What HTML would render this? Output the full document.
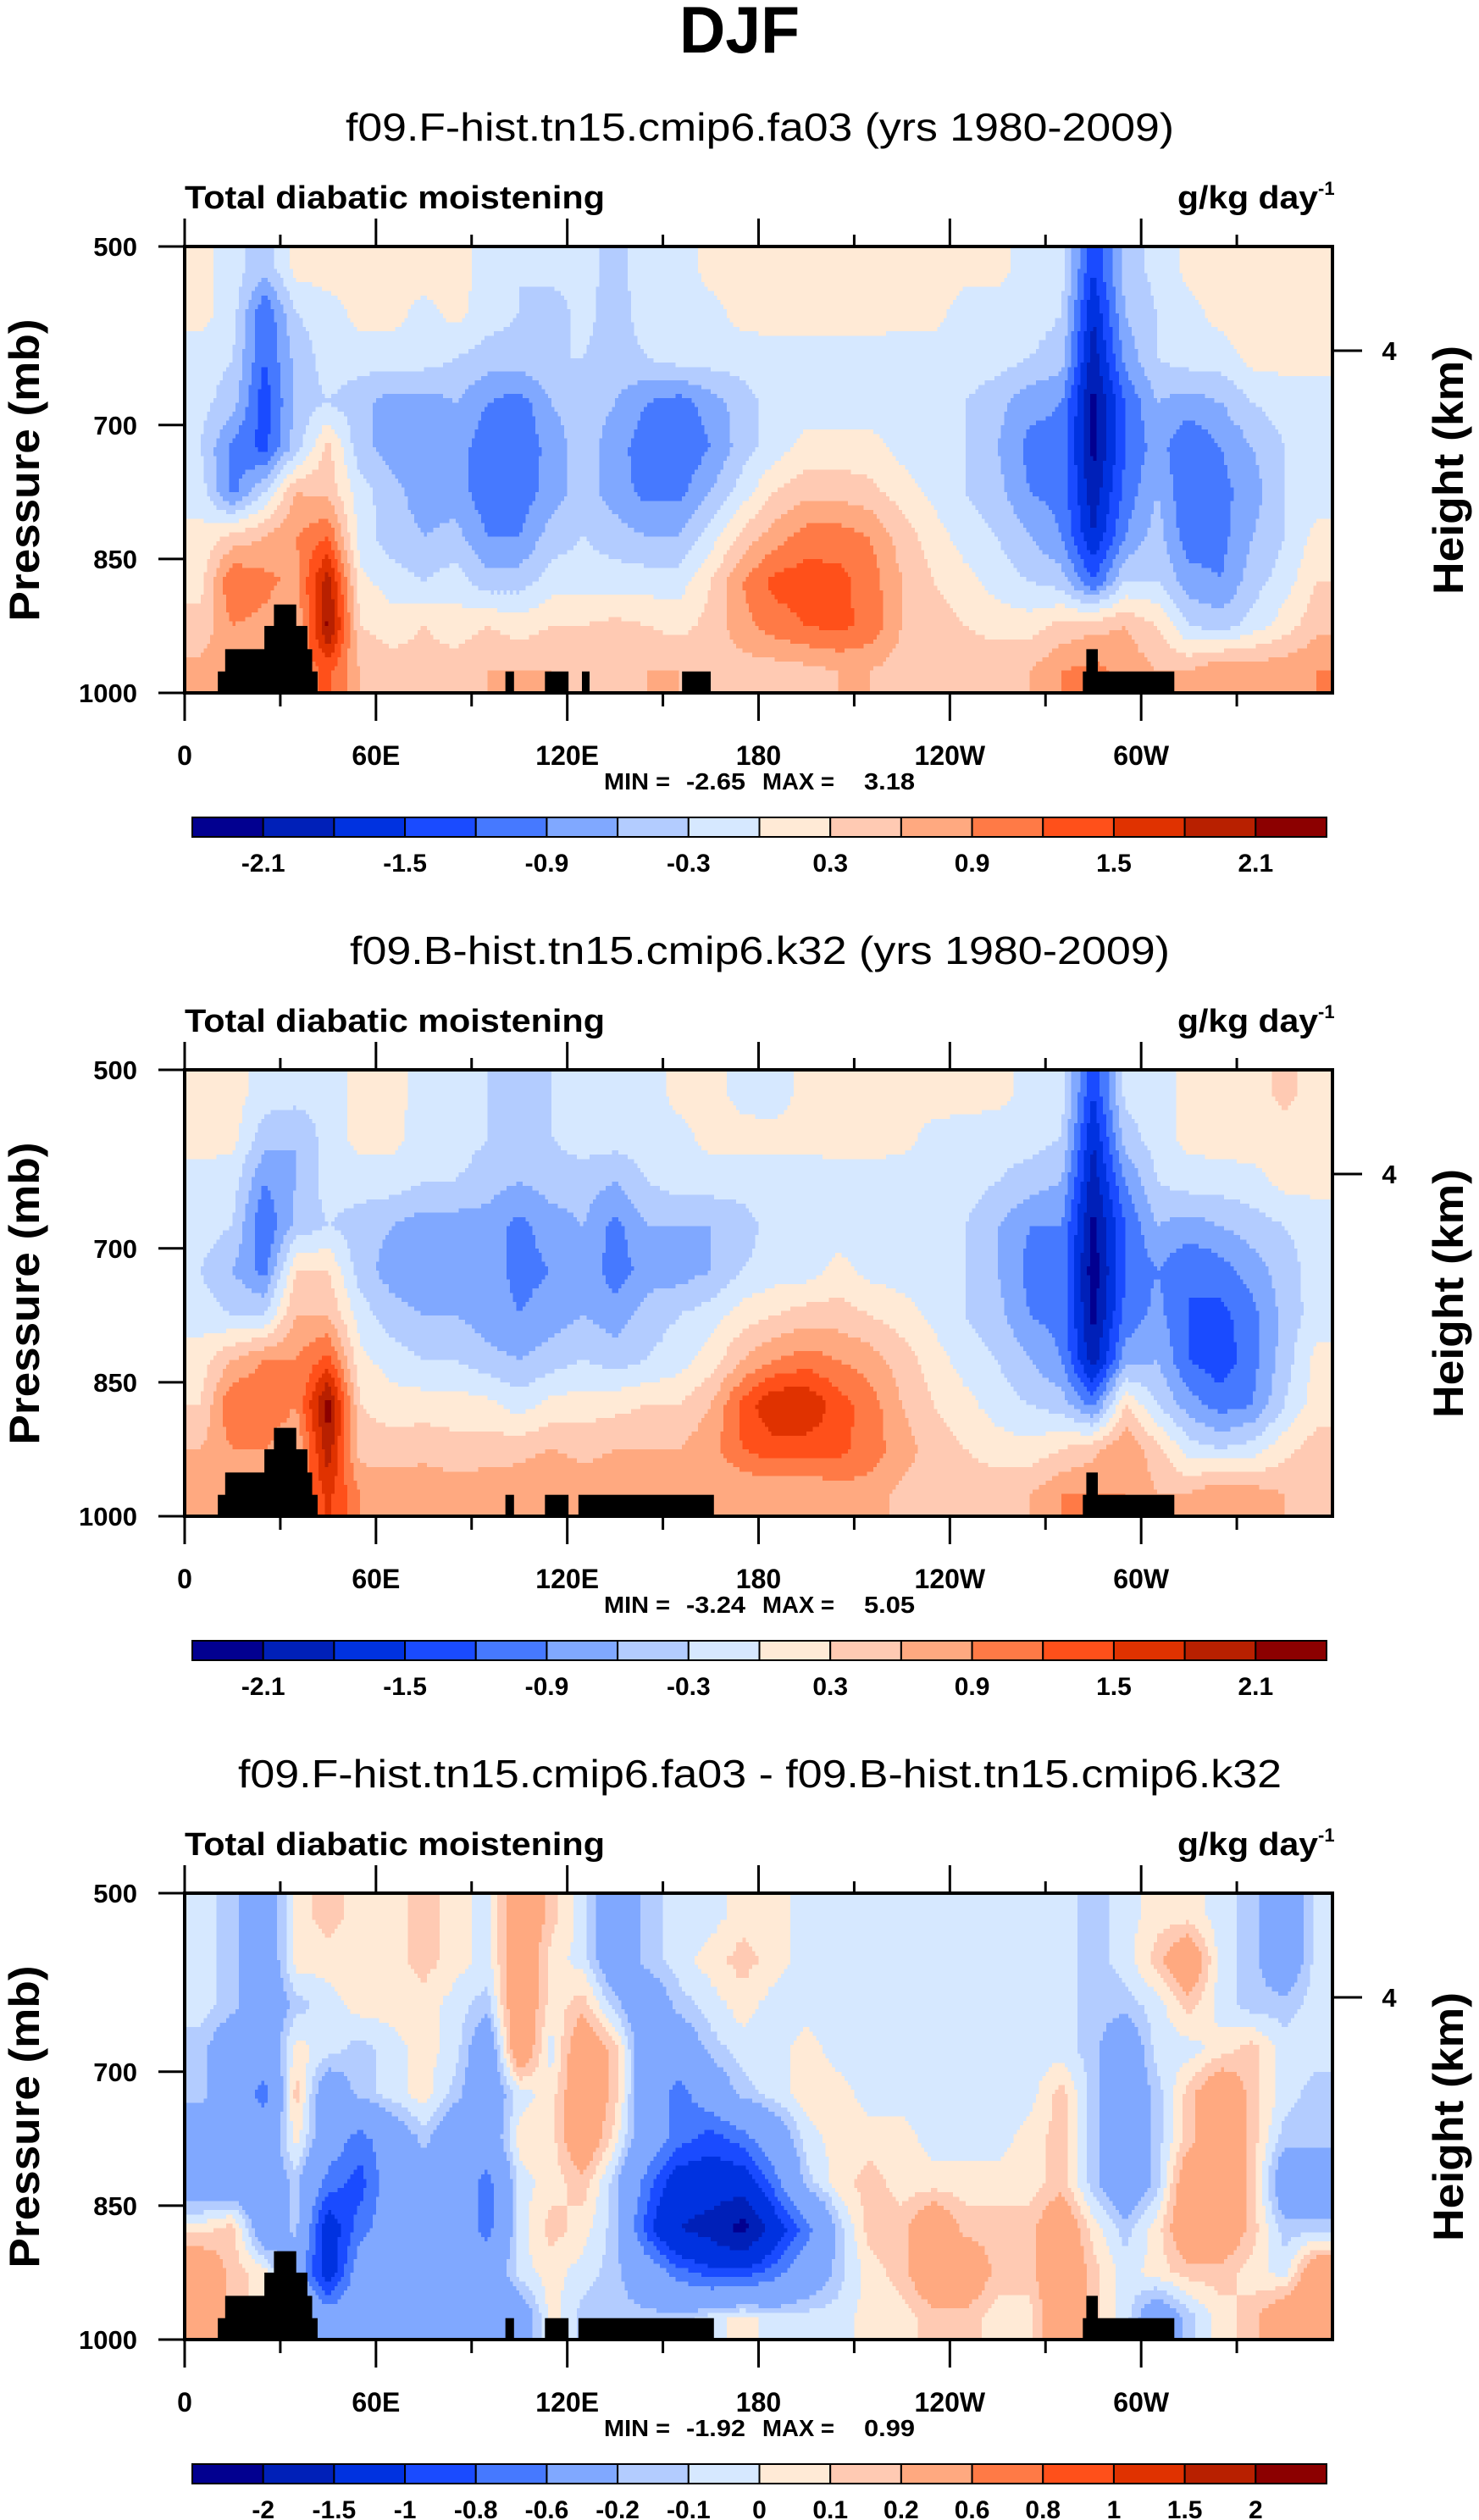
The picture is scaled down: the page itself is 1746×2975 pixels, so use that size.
<!DOCTYPE html>
<html><head><meta charset="utf-8"><title>DJF Total diabatic moistening</title>
<style>
html,body{margin:0;padding:0;background:#fff;}
svg{display:block;font-family:"Liberation Sans",Arial,sans-serif;}
.pre{white-space:pre;}
</style></head>
<body>
<svg id="fig" width="1746" height="2975" viewBox="0 0 1746 2975" xmlns="http://www.w3.org/2000/svg">
<rect width="1746" height="2975" fill="#fff"/>
<text x="873" y="62" text-anchor="middle" font-size="78" font-weight="bold" textLength="142" lengthAdjust="spacingAndGlyphs">DJF</text>
</svg>
<script>
// ---- data ----
const lonCenters = [5,15,25,35,45,55,65,75,85,95,105,115,125,135,145,155,165,175,185,195,205,215,225,235,245,255,265,275,285,295,305,315,325,335,345,355];
const presCenters = [525,575,625,675,725,775,825,875,925,975];
const xTickLabels = ["0","60E","120E","180","120W","60W"];
const xTickLons = [0,60,120,180,240,300];
const yTickLabels = ["500","700","850","1000"];
const yTickValues = [500,700,850,1000];
const levelsAB = [-2.1,-1.8,-1.5,-1.2,-0.9,-0.6,-0.3,0,0.3,0.6,0.9,1.2,1.5,1.8,2.1];
const labelsAB = ["-2.1","-1.5","-0.9","-0.3","0.3","0.9","1.5","2.1"];
const levelsDiff = [-2,-1.5,-1,-0.8,-0.6,-0.2,-0.1,0,0.1,0.2,0.6,0.8,1,1.5,2];
const labelsDiff = ["-2","-1.5","-1","-0.8","-0.6","-0.2","-0.1","0","0.1","0.2","0.6","0.8","1","1.5","2"];
const colors = ["#020090","#0020b8","#0032e0","#1a4bff","#4679ff","#80a8ff","#b3ccff","#d6e8ff","#ffead6","#ffcab3","#ffa980","#ff7a46","#ff501a","#e03200","#b82000","#8c0000"];

const fieldA = [
[0.1,-0.15,-0.5,0.1,0.15,0.15,0.15,0.15,0.15,-0.15,-0.3,-0.2,-0.2,-0.4,-0.15,-0.15,0.1,0.15,0.15,0.15,0.15,0.15,0.15,0.15,0.1,0.1,-0.15,-0.15,-1.5,-0.45,-0.2,0.1,0.15,0.15,0.15,0.15],
[0.1,-0.15,-1.2,-0.3,-0.15,0.1,0.1,-0.1,0.1,-0.15,-0.3,-0.45,-0.2,-0.45,-0.15,-0.15,-0.1,0.1,0.15,0.15,0.15,0.15,0.1,0.1,-0.15,-0.15,-0.15,-0.3,-1.8,-0.6,-0.3,-0.1,0.1,0.15,0.15,0.15],
[-0.15,-0.3,-1.2,-0.5,-0.15,-0.15,-0.15,-0.15,-0.3,-0.45,-0.45,-0.3,-0.3,-0.45,-0.3,-0.15,-0.15,-0.15,-0.15,-0.15,-0.15,-0.15,-0.15,-0.15,-0.15,-0.15,-0.3,-0.45,-2.0,-0.8,-0.3,-0.15,-0.15,0.1,0.1,0.1],
[-0.2,-0.45,-1.4,-0.5,-0.3,-0.5,-0.75,-0.75,-0.6,-0.9,-1.05,-0.6,-0.45,-0.6,-0.9,-1.05,-0.75,-0.45,-0.15,-0.15,-0.15,-0.15,-0.15,-0.15,-0.3,-0.5,-0.8,-0.9,-2.2,-1.2,-0.6,-0.75,-0.6,-0.3,-0.15,-0.15],
[-0.3,-1.0,-1.3,-0.45,0.4,-0.5,-0.75,-0.8,-0.75,-1.1,-1.2,-0.75,-0.45,-0.75,-1.1,-1.15,-0.9,-0.45,-0.15,0.1,0.1,0.1,-0.1,-0.15,-0.3,-0.6,-1.0,-1.0,-2.2,-1.2,-0.75,-1.2,-0.9,-0.6,-0.3,-0.15],
[-0.15,-1.0,-0.3,0.6,0.5,-0.15,-0.5,-0.75,-0.75,-1.1,-1.1,-0.75,-0.45,-0.75,-1.0,-1.0,-0.6,-0.15,0.3,0.5,0.5,0.4,0.15,-0.1,-0.3,-0.5,-0.9,-1.0,-2.0,-1.1,-0.6,-1.2,-1.0,-0.75,-0.3,-0.15],
[0.1,0.4,0.6,0.9,1.2,-0.15,-0.45,-0.6,-0.5,-0.9,-0.9,-0.45,-0.3,-0.45,-0.6,-0.6,-0.15,0.4,0.75,1.05,1.05,0.9,0.45,0.15,-0.15,-0.3,-0.6,-0.9,-1.8,-0.9,-0.45,-1.1,-1.0,-0.6,-0.3,0.1],
[0.2,1.2,1.0,0.8,2.0,0.1,-0.15,-0.3,-0.15,-0.5,-0.45,-0.15,-0.15,-0.15,-0.15,-0.15,0.3,0.9,1.3,1.35,1.3,1.05,0.6,0.3,0.1,-0.15,-0.3,-0.45,-1.2,-0.3,-0.3,-0.75,-0.9,-0.45,-0.15,0.3],
[0.4,0.9,0.8,0.6,2.2,0.3,0.15,0.3,0.15,0.3,0.15,0.3,0.3,0.4,0.3,0.2,0.4,0.8,1.05,1.2,1.3,1.1,0.6,0.45,0.3,0.2,0.15,0.4,0.5,0.6,0.3,-0.3,-0.45,-0.15,0.15,0.5],
[0.7,0.8,0.9,0.9,1.3,0.6,0.45,0.45,0.45,0.6,0.6,0.6,0.5,0.5,0.6,0.6,0.45,0.45,0.45,0.5,0.6,0.6,0.45,0.45,0.45,0.5,0.6,0.9,1.0,0.8,0.6,0.6,0.9,0.8,0.8,0.9]
];
const fieldB = [
[0.15,0.15,-0.15,-0.15,-0.15,0.1,0.1,-0.1,-0.15,-0.3,-0.45,-0.3,-0.15,-0.15,-0.15,0.1,0.1,-0.1,-0.15,0.1,0.15,0.15,0.15,0.15,0.15,0.1,-0.1,-0.15,-1.5,-0.2,-0.15,0.1,0.15,0.15,0.4,0.15],
[0.15,0.1,-0.45,-0.6,-0.15,0.1,0.1,-0.15,-0.15,-0.3,-0.45,-0.3,-0.15,-0.15,-0.15,-0.1,0.1,0.1,0.1,0.1,0.15,0.15,0.1,-0.1,-0.15,-0.15,-0.15,-0.3,-1.8,-0.45,-0.15,0.1,0.15,0.15,0.15,0.15],
[-0.15,-0.15,-0.9,-0.6,-0.15,-0.15,-0.15,-0.3,-0.3,-0.45,-0.6,-0.45,-0.45,-0.6,-0.3,-0.15,-0.15,-0.15,-0.15,-0.15,-0.15,-0.15,-0.15,-0.15,-0.15,-0.3,-0.45,-0.6,-2.0,-0.9,-0.3,-0.15,-0.15,-0.1,0.1,0.1],
[-0.15,-0.3,-1.2,-0.5,-0.3,-0.45,-0.6,-0.75,-0.75,-0.75,-1.0,-0.75,-0.6,-1.0,-0.6,-0.6,-0.6,-0.45,-0.15,-0.15,-0.15,-0.15,-0.15,-0.15,-0.3,-0.6,-0.9,-0.9,-2.2,-1.2,-0.6,-0.75,-0.6,-0.45,-0.3,-0.15],
[-0.3,-0.6,-1.0,0.3,0.3,-0.45,-0.75,-0.9,-0.8,-0.75,-1.0,-0.9,-0.6,-1.1,-0.75,-0.75,-0.6,-0.3,-0.15,-0.15,0.1,-0.1,-0.15,-0.15,-0.3,-0.6,-1.0,-1.0,-2.3,-1.2,-0.9,-1.2,-1.05,-0.75,-0.45,-0.15],
[-0.15,-0.3,-0.3,0.6,0.6,-0.15,-0.45,-0.6,-0.6,-0.75,-0.9,-0.75,-0.6,-0.75,-0.45,-0.3,-0.15,0.15,0.3,0.45,0.45,0.3,0.15,-0.1,-0.3,-0.5,-0.9,-1.0,-2.2,-1.1,-0.8,-1.2,-1.3,-1.0,-0.5,-0.15],
[0.15,0.6,0.9,0.9,1.3,0.1,-0.15,-0.3,-0.3,-0.5,-0.6,-0.45,-0.3,-0.45,-0.3,-0.15,0.15,0.6,0.9,1.05,0.9,0.75,0.45,0.15,-0.15,-0.3,-0.6,-0.9,-2.0,-0.75,-0.6,-1.2,-1.4,-1.0,-0.45,0.1],
[0.3,1.2,1.2,0.9,2.3,0.3,0.15,0.15,0.15,0.1,-0.15,0.1,0.15,0.2,0.3,0.3,0.6,1.3,1.8,1.8,1.35,1.05,0.6,0.3,0.1,-0.15,-0.3,-0.45,-1.0,0.3,-0.3,-0.75,-1.05,-0.9,-0.3,0.15],
[0.6,0.9,0.9,0.6,2.0,0.45,0.45,0.5,0.4,0.45,0.5,0.6,0.5,0.6,0.6,0.6,0.8,1.2,1.4,1.35,1.3,1.05,0.75,0.45,0.3,0.15,0.1,0.3,0.5,0.9,0.4,-0.15,-0.3,-0.15,0.2,0.45],
[0.8,0.8,0.9,0.9,1.6,0.9,0.8,0.8,0.8,0.8,0.8,0.9,0.8,0.8,0.8,0.7,0.6,0.6,0.6,0.6,0.75,0.75,0.5,0.45,0.45,0.5,0.6,0.9,0.9,0.9,0.6,0.6,0.9,0.75,0.6,0.5]
];
const fieldDiff = [
[-0.05,-0.15,-0.4,0.05,0.15,0.05,0.05,0.15,0.05,-0.05,0.4,0.15,-0.05,-0.4,-0.15,-0.05,-0.05,0.05,0.05,-0.05,-0.05,-0.05,-0.05,-0.05,-0.05,-0.05,-0.05,-0.05,-0.15,-0.05,0.05,0.05,-0.05,-0.15,-0.4,-0.05],
[-0.05,-0.15,-0.4,0.05,0.05,0.05,0.05,0.15,0.05,-0.05,0.4,0.05,-0.05,-0.4,-0.15,-0.05,0.05,0.15,0.05,-0.05,-0.05,-0.05,-0.05,-0.05,-0.05,-0.05,-0.05,-0.05,-0.15,-0.05,0.15,0.4,-0.05,-0.15,-0.4,-0.05],
[-0.05,-0.15,-0.4,-0.15,-0.05,0.05,0.05,0.05,-0.05,-0.15,0.4,0.05,0.15,-0.15,-0.4,-0.15,-0.05,0.05,-0.05,-0.05,-0.05,-0.05,-0.05,-0.05,-0.05,-0.05,-0.05,-0.05,-0.15,-0.15,-0.05,0.15,-0.05,-0.15,-0.15,-0.05],
[-0.15,-0.4,-0.4,0.05,-0.05,-0.15,-0.05,0.05,-0.05,-0.4,0.4,-0.05,0.4,0.15,-0.4,-0.4,-0.15,-0.05,-0.05,0.05,-0.05,-0.05,-0.05,-0.05,-0.05,-0.05,-0.05,-0.05,-0.15,-0.4,-0.05,-0.05,0.05,0.15,-0.05,-0.05],
[-0.15,-0.4,-0.7,0.15,-0.4,-0.15,-0.05,0.05,-0.15,-0.4,-0.05,0.05,0.4,0.15,-0.4,-0.7,-0.4,-0.15,-0.05,0.05,0.05,-0.05,-0.05,-0.05,-0.05,-0.05,-0.05,0.15,-0.15,-0.4,-0.15,0.15,0.4,0.15,-0.05,-0.15],
[-0.4,-0.4,-0.4,0.05,-0.4,-0.7,-0.4,-0.15,-0.4,-0.4,0.05,0.05,0.4,0.05,-0.4,-0.7,-0.9,-0.7,-0.4,-0.05,0.05,0.05,0.05,-0.05,-0.05,-0.05,0.05,0.15,-0.15,-0.4,-0.15,0.15,0.4,0.15,-0.15,-0.15],
[-0.4,-0.4,-0.4,-0.15,-0.7,-0.9,-0.4,-0.4,-0.4,-0.7,-0.05,0.05,0.15,-0.15,-0.7,-1.2,-1.2,-1.2,-0.7,-0.15,0.05,0.15,0.05,0.05,0.05,0.05,0.05,0.15,-0.15,-0.4,-0.15,0.4,0.4,0.15,-0.4,-0.4],
[0.05,0.15,-0.4,-0.15,-1.2,-0.7,-0.4,-0.4,-0.4,-0.7,-0.05,0.15,0.05,-0.15,-0.9,-1.5,-1.7,-2.2,-1.2,-0.7,-0.15,0.15,0.15,0.4,0.15,0.15,0.15,0.4,0.05,-0.15,0.05,0.4,0.4,0.15,-0.15,-0.15],
[0.4,0.15,0.05,-0.4,-1.2,-0.4,-0.4,-0.4,-0.4,-0.4,-0.05,0.05,-0.05,-0.15,-0.4,-0.7,-0.9,-0.9,-0.7,-0.4,-0.15,0.05,0.15,0.4,0.4,0.15,0.15,0.4,0.15,-0.05,0.05,0.15,0.15,0.05,-0.05,0.4],
[0.4,0.15,0.05,-0.15,-0.4,-0.4,-0.4,-0.4,-0.4,-0.4,-0.4,0.05,-0.15,-0.15,-0.15,-0.15,-0.05,0.05,-0.05,-0.05,-0.05,0.05,0.05,0.15,0.15,0.05,0.05,0.4,0.15,-0.05,-0.4,-0.15,0.05,0.15,0.4,0.4]
];
// topography blocks: [lonStart, lonEnd, pressureTop]
const topoA = [[10.4,41.7,976],[12.7,40,951],[25,38.5,925],[28,35,901],[100.6,103.3,976],[113,120.4,976],[124.6,127,976],[156,165,976],[281.7,310.4,976],[282.8,286.4,951]];
const topoB = [[10.4,41.7,976],[12.7,40,951],[25,38.5,925],[28,35,901],[100.6,103.3,976],[113,120.4,976],[123.5,166,976],[281.7,310.4,976],[282.8,286.4,951]];

const panels = [
 {off:0, title:"f09.F-hist.tn15.cmip6.fa03 (yrs 1980-2009)", tl:978, field:fieldA, levels:levelsAB, labels:labelsAB, labelIdx:[1,3,5,7,9,11,13,15], minmax:["MIN =","-2.65","MAX =","3.18"], topo:topoA},
 {off:972, title:"f09.B-hist.tn15.cmip6.k32 (yrs 1980-2009)", tl:968, field:fieldB, levels:levelsAB, labels:labelsAB, labelIdx:[1,3,5,7,9,11,13,15], minmax:["MIN =","-3.24","MAX =","5.05"], topo:topoB},
 {off:1944, title:"f09.F-hist.tn15.cmip6.fa03 - f09.B-hist.tn15.cmip6.k32", tl:1232, field:fieldDiff, levels:levelsDiff, labels:labelsDiff, labelIdx:[1,2,3,4,5,6,7,8,9,10,11,12,13,14,15], minmax:["MIN =","-1.92","MAX =","0.99"], topo:topoB}
];

// ---- drawing ----
const NS = "http://www.w3.org/2000/svg";
const svg = document.getElementById("fig");
const PL = 218, PR = 1573, PT = 291, PB = 818;
function xScale(lon){ return PL + lon*(PR-PL)/360; }
function yScale(p, off){ return PT + off + (p-500)*(PB-PT)/500; }
function mk(tag, attrs, parent){
  const e = document.createElementNS(NS, tag);
  for (const k in attrs) e.setAttribute(k, attrs[k]);
  (parent||svg).appendChild(e);
  return e;
}
function levelIndex(v, bounds){ let i=0; while(i<bounds.length && v>=bounds[i]) i++; return i; }
function sample(field, lon, p){
  const nx = lonCenters.length, ny = presCenters.length;
  let fx = (lon - lonCenters[0])/(lonCenters[1]-lonCenters[0]);
  let fy = (p - presCenters[0])/(presCenters[1]-presCenters[0]);
  fx = Math.max(0, Math.min(nx-1, fx)); fy = Math.max(0, Math.min(ny-1, fy));
  const i0 = Math.min(nx-2, Math.floor(fx)), j0 = Math.min(ny-2, Math.floor(fy));
  const tx = fx - i0, ty = fy - j0;
  const a = field[j0][i0], b = field[j0][i0+1], c = field[j0+1][i0], d = field[j0+1][i0+1];
  return (a*(1-tx)+b*tx)*(1-ty) + (c*(1-tx)+d*tx)*ty;
}

panels.forEach((P, pi) => {
  const off = P.off;
  const g = mk("g", {});
  
  

  const st = mk("text", {x:897, y:166+off, "text-anchor":"middle", "font-size":46, textLength:P.tl, lengthAdjust:"spacingAndGlyphs"}, g);
  st.textContent = P.title;
  
  

  const lt = mk("text", {x:218, y:246+off, "font-size":38, "font-weight":"bold", textLength:496, lengthAdjust:"spacingAndGlyphs"}, g);
  lt.textContent = "Total diabatic moistening";
  
  

  const ut = mk("text", {x:1390, y:246+off, "font-size":38, "font-weight":"bold"}, g);
  
  
  const t1 = mk("tspan", {textLength:166, lengthAdjust:"spacingAndGlyphs"}, ut); t1.textContent = "g/kg day";
  const t2 = mk("tspan", {dy:-16, "font-size":22}, ut); t2.textContent = "-1";

  // contour field
  const fg = mk("g", {"shape-rendering":"crispEdges"}, g);
  
  
  const dLon = 1, dP = 5;
  for (let p = 500; p < 1000; p += dP){
    let runStart = 0, runIdx = -1;
    const y0 = yScale(p, off), y1 = yScale(p+dP, off);
    for (let lon = 0; lon <= 360; lon += dLon){
      const idx = lon < 360 ? levelIndex(sample(P.field, lon + dLon/2, p + dP/2), P.levels) : -2;
      if (idx !== runIdx){
        if (runIdx >= 0){
          const r = mk("rect", {x:xScale(runStart).toFixed(1), y:y0.toFixed(1), width:(xScale(lon)-xScale(runStart)+0.6).toFixed(1), height:(y1-y0+0.6).toFixed(1), fill:colors[runIdx]}, fg);
          
          
        }
        runStart = lon; runIdx = idx;
      }
    }
  }
  // topography
  P.topo.forEach(b => {
    const r = mk("rect", {x:xScale(b[0]), y:yScale(b[2], off), width:xScale(b[1])-xScale(b[0]), height:yScale(1000,off)-yScale(b[2],off), fill:"#000"}, g);
    
    
  });
  // frame
  const fr = mk("rect", {x:PL, y:PT+off, width:PR-PL, height:PB-PT, fill:"none", stroke:"#000", "stroke-width":4}, g);
  
  
  // x ticks
  for (let lon = 0; lon < 360; lon += 30){
    const major = lon % 60 === 0;
    const x = xScale(lon);
    const tb = mk("line", {x1:x, x2:x, y1:PB+off, y2:PB+off+(major?33:16), stroke:"#000", "stroke-width":3}, g);
    
    
    const tt = mk("line", {x1:x, x2:x, y1:PT+off, y2:PT+off-(major?33:14), stroke:"#000", "stroke-width":3}, g);
    
    
  }
  xTickLabels.forEach((lab, i) => {
    const t = mk("text", {x:xScale(xTickLons[i]), y:903+off, "text-anchor":"middle", "font-size":32, "font-weight":"bold"}, g);
    t.textContent = lab;
    
    
  });
  // y ticks
  yTickLabels.forEach((lab, i) => {
    const y = yScale(yTickValues[i], off);
    const l = mk("line", {x1:187, x2:PL, y1:y, y2:y, stroke:"#000", "stroke-width":3}, g);
    
    
    const t = mk("text", {x:162, y:y+11, "text-anchor":"end", "font-size":31, "font-weight":"bold"}, g);
    t.textContent = lab;
    
    
  });
  const rl = mk("line", {x1:PR, x2:1608, y1:414+off, y2:414+off, stroke:"#000", "stroke-width":3}, g);
  
  
  const rt = mk("text", {x:1640, y:425+off, "text-anchor":"middle", "font-size":31, "font-weight":"bold"}, g);
  rt.textContent = "4";
  
  
  // axis titles
  const yt = mk("text", {x:0, y:0, "text-anchor":"middle", "font-size":50, "font-weight":"bold", transform:`translate(46,${555+off}) rotate(-90)`, textLength:357, lengthAdjust:"spacingAndGlyphs"}, g);
  yt.textContent = "Pressure (mb)";
  
  
  const ht = mk("text", {x:0, y:0, "text-anchor":"middle", "font-size":50, "font-weight":"bold", transform:`translate(1727,${555+off}) rotate(-90)`, textLength:294, lengthAdjust:"spacingAndGlyphs"}, g);
  ht.textContent = "Height (km)";
  
  
  // min/max
  const mmPos = [713, 810, 900, 1020];
  const mmLen = [78, 70, 85, 60];
  P.minmax.forEach((s, i) => {
    const t = mk("text", {x:mmPos[i], y:932+off, "font-size":28, "font-weight":"bold", textLength:mmLen[i], lengthAdjust:"spacingAndGlyphs"}, g);
    t.textContent = s;
    
    
  });
  // colorbar
  const cb = mk("g", {}, g);
  
  
  const cx0 = 227, cx1 = 1566, cw = (cx1-cx0)/16, cy = 965+off, ch = 23;
  colors.forEach((c, i) => {
    const r = mk("rect", {x:cx0+i*cw, y:cy, width:cw, height:ch, fill:c, stroke:"#000", "stroke-width":2}, cb);
    
    
  });
  P.labels.forEach((lab, i) => {
    const t = mk("text", {x:cx0+P.labelIdx[i]*cw, y:1029+off, "text-anchor":"middle", "font-size":30, "font-weight":"bold"}, cb);
    t.textContent = lab;
    
    
  });
});
</script>
</body></html>
